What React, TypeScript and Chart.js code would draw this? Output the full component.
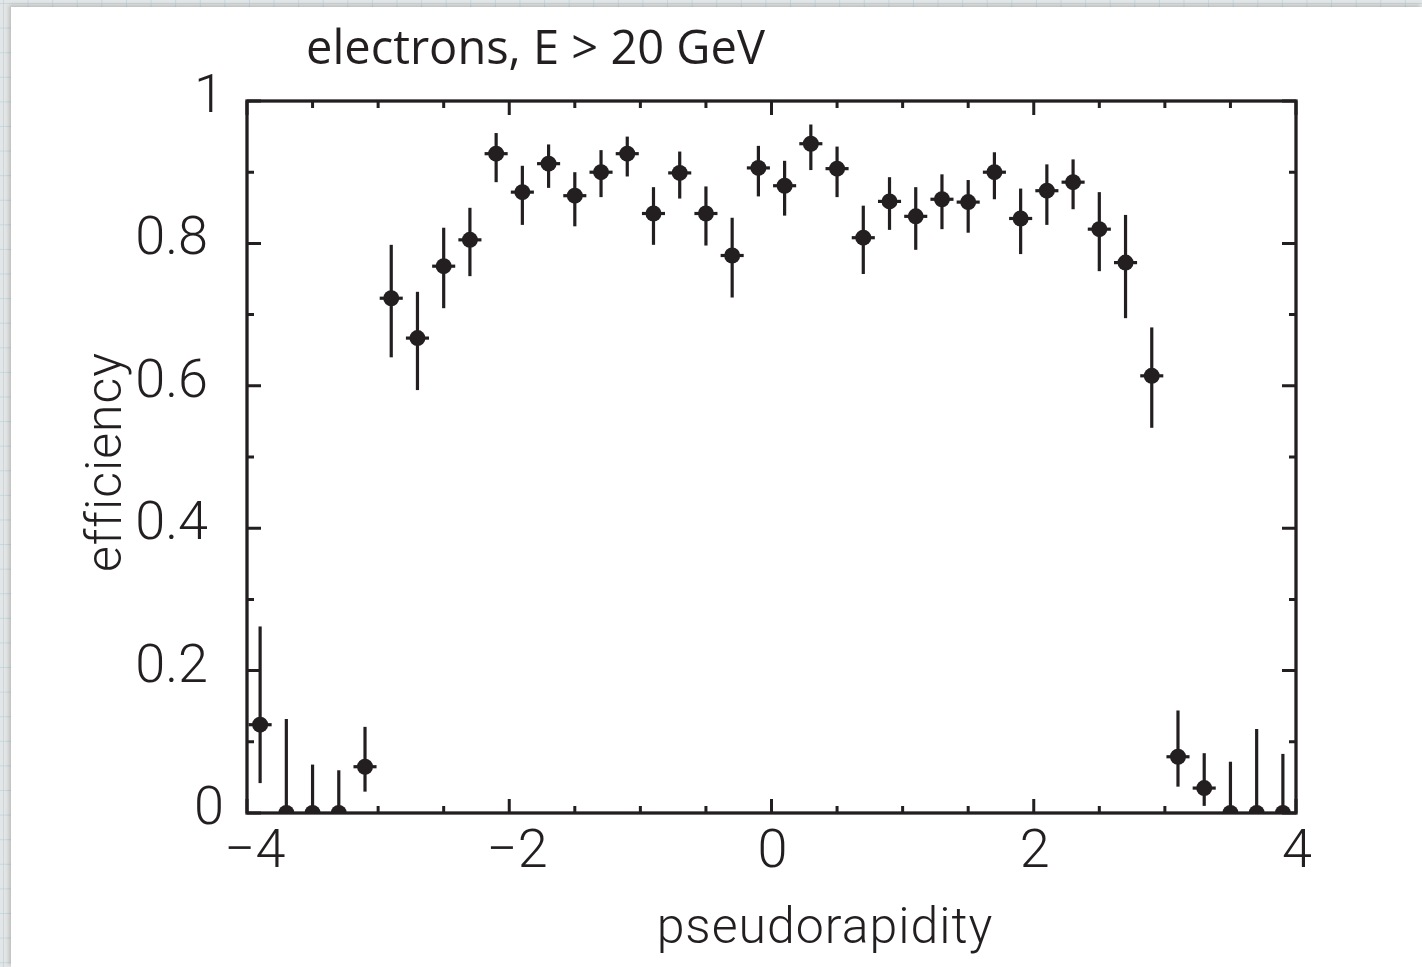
import React, { useEffect, useRef } from "react";
import { Chart, registerables } from "chart.js";

Chart.register(...registerables);

// ---- data ----
const etaCenters = [
  -3.9, -3.7, -3.5, -3.3, -3.1, -2.9, -2.7, -2.5, -2.3, -2.1,
  -1.9, -1.7, -1.5, -1.3, -1.1, -0.9, -0.7, -0.5, -0.3, -0.1,
  0.1, 0.3, 0.5, 0.7, 0.9, 1.1, 1.3, 1.5, 1.7, 1.9,
  2.1, 2.3, 2.5, 2.7, 2.9, 3.1, 3.3, 3.5, 3.7, 3.9,
];
const efficiency = [
  0.124, 0, 0, 0, 0.065, 0.723, 0.667, 0.768, 0.805, 0.926,
  0.872, 0.912, 0.867, 0.900, 0.926, 0.842, 0.899, 0.842, 0.783, 0.906,
  0.881, 0.940, 0.905, 0.808, 0.859, 0.838, 0.862, 0.858, 0.900, 0.835,
  0.874, 0.886, 0.820, 0.773, 0.614, 0.079, 0.035, 0, 0, 0,
];
const errUpper = [
  0.262, 0.132, 0.068, 0.060, 0.121, 0.798, 0.732, 0.822, 0.850, 0.955,
  0.909, 0.939, 0.900, 0.931, 0.950, 0.879, 0.929, 0.880, 0.836, 0.937,
  0.916, 0.967, 0.936, 0.853, 0.893, 0.879, 0.897, 0.889, 0.928, 0.877,
  0.911, 0.918, 0.872, 0.840, 0.682, 0.144, 0.084, 0.072, 0.118, 0.083,
];
const errLower = [
  0.042, 0, 0, 0, 0.030, 0.640, 0.594, 0.709, 0.754, 0.886,
  0.826, 0.878, 0.824, 0.865, 0.894, 0.798, 0.863, 0.797, 0.724, 0.866,
  0.839, 0.903, 0.865, 0.757, 0.819, 0.791, 0.820, 0.815, 0.862, 0.785,
  0.826, 0.848, 0.761, 0.695, 0.541, 0.037, 0.010, 0, 0, 0,
];
const etaHalfBar = 0.088;

const xTickValues = [-4, -3.5, -3, -2.5, -2, -1.5, -1, -0.5, 0, 0.5, 1, 1.5, 2, 2.5, 3, 3.5, 4];
const xLabelValues = [-4, -2, 0, 2, 4];
const xLabelTexts = ["\u22124", "\u22122", "0", "2", "4"];
const yTickValues = [0, 0.1, 0.2, 0.3, 0.4, 0.5, 0.6, 0.7, 0.8, 0.9, 1];
const yLabelValues = [0, 0.2, 0.4, 0.6, 0.8, 1];
const yLabelTexts = ["0", "0.2", "0.4", "0.6", "0.8", "1"];

const titleText = "electrons, E > 20 GeV";
const xTitle = "pseudorapidity";
const yTitle = "efficiency";

const INK = "#231f20";
const TICK_FONT = "300 54px Roboto";
const AXIS_FONT = "300 50px Roboto";
const TITLE_FONT = "400 47px 'Open Sans'";

const errorBarPlugin = {
  id: "errorBars",
  beforeDatasetsDraw(chart: any) {
    const { ctx, chartArea: a, scales } = chart;
    const x = scales.x;
    const y = scales.y;
    ctx.save();
    ctx.beginPath();
    ctx.rect(a.left, a.top, a.right - a.left, a.bottom - a.top);
    ctx.clip();
    ctx.strokeStyle = INK;
    ctx.lineWidth = 3.2;
    ctx.lineCap = "butt";
    etaCenters.forEach((eta, i) => {
      const px = x.getPixelForValue(eta);
      const py = y.getPixelForValue(efficiency[i]);
      ctx.beginPath();
      ctx.moveTo(px, y.getPixelForValue(errUpper[i]));
      ctx.lineTo(px, y.getPixelForValue(errLower[i]));
      ctx.stroke();
      if (efficiency[i] > 0) {
        ctx.beginPath();
        ctx.moveTo(x.getPixelForValue(eta - etaHalfBar), py);
        ctx.lineTo(x.getPixelForValue(eta + etaHalfBar), py);
        ctx.stroke();
      }
    });
    ctx.restore();
  },
};

const framePlugin = {
  id: "frame",
  afterDraw(chart: any) {
    const { ctx, chartArea: a, scales } = chart;
    const x = scales.x;
    const y = scales.y;
    ctx.save();
    ctx.strokeStyle = INK;
    ctx.fillStyle = INK;
    ctx.lineWidth = 3.3;
    ctx.strokeRect(a.left, a.top, a.right - a.left, a.bottom - a.top);

    ctx.lineWidth = 3;
    xTickValues.forEach((v) => {
      const px = x.getPixelForValue(v);
      const len = xLabelValues.includes(v) ? 14 : 7;
      ctx.beginPath();
      ctx.moveTo(px, a.bottom);
      ctx.lineTo(px, a.bottom - len);
      ctx.moveTo(px, a.top);
      ctx.lineTo(px, a.top + len);
      ctx.stroke();
    });
    yTickValues.forEach((v) => {
      const py = y.getPixelForValue(v);
      const len = yLabelValues.includes(v) ? 14 : 7;
      ctx.beginPath();
      ctx.moveTo(a.left, py);
      ctx.lineTo(a.left + len, py);
      ctx.moveTo(a.right, py);
      ctx.lineTo(a.right - len, py);
      ctx.stroke();
    });

    // tick labels
    ctx.font = TICK_FONT;
    ctx.textBaseline = "alphabetic";
    ctx.textAlign = "center";
    xLabelValues.forEach((v, i) => {
      const px = x.getPixelForValue(v) + (v < 0 ? 8 : 1);
      ctx.fillText(xLabelTexts[i], px, a.bottom + 54);
    });
    ctx.textAlign = "right";
    yLabelValues.forEach((v, i) => {
      const py = y.getPixelForValue(v);
      const txt = yLabelTexts[i];
      const right = txt.includes(".") ? a.left - 39 : a.left - 23;
      ctx.fillText(txt, right, py + 11);
    });

    // axis titles
    ctx.font = AXIS_FONT;
    ctx.textAlign = "center";
    (ctx as any).letterSpacing = "1px";
    ctx.fillText(xTitle, 825, 943);
    ctx.save();
    ctx.translate(121, y.getPixelForValue(0.5) + 5);
    ctx.rotate(-Math.PI / 2);
    (ctx as any).letterSpacing = "1px";
    ctx.fillText(yTitle, 0, 0);
    ctx.restore();

    // title
    (ctx as any).letterSpacing = "0px";
    ctx.font = TITLE_FONT;
    ctx.textAlign = "left";
    ctx.fillText(titleText, 306, 64);
    ctx.restore();
  },
};

export default function App() {
  const canvasRef = useRef<HTMLCanvasElement | null>(null);

  useEffect(() => {
    const canvas = canvasRef.current;
    if (!canvas) return;
    const chart = new Chart(canvas, {
      type: "scatter",
      data: {
        datasets: [
          {
            label: "efficiency",
            data: etaCenters.map((eta, i) => ({ x: eta, y: efficiency[i] })),
            pointRadius: 8,
            pointHoverRadius: 8,
            pointStyle: "circle",
            backgroundColor: INK,
            borderColor: INK,
            borderWidth: 0,
            clip: 0,
          } as any,
        ],
      },
      options: {
        animation: false,
        responsive: false,
        devicePixelRatio: 1,
        events: [],
        layout: { padding: { top: 101, right: 126, left: 0, bottom: 0 } },
        plugins: {
          legend: { display: false },
          tooltip: { enabled: false },
          title: { display: false },
        },
        scales: {
          x: {
            type: "linear",
            min: -4,
            max: 4,
            grid: { display: false },
            border: { display: false },
            ticks: { display: false },
            afterFit: (scale: any) => {
              scale.height = 154;
            },
          },
          y: {
            type: "linear",
            min: 0,
            max: 1,
            grid: { display: false },
            border: { display: false },
            ticks: { display: false },
            afterFit: (scale: any) => {
              scale.width = 247;
            },
          },
        },
      },
      plugins: [errorBarPlugin, framePlugin],
    });
    return () => chart.destroy();
  }, []);

  const paper: React.CSSProperties = {
    position: "absolute",
    left: 0,
    top: 0,
    width: 1422,
    height: 967,
    overflow: "hidden",
    backgroundColor: "#e4e5e5",
    backgroundImage:
      "linear-gradient(rgba(185,212,222,0.7) 1px, transparent 1px), linear-gradient(90deg, rgba(185,212,222,0.7) 1px, transparent 1px)",
    backgroundSize: "24.6px 24.6px",
    backgroundPosition: "3px 3px",
  };
  const panel: React.CSSProperties = {
    position: "absolute",
    left: 11,
    top: 7,
    right: 0,
    bottom: 0,
    background: "#ffffff",
    boxShadow: "-2px -2px 4px rgba(0,0,0,0.18)",
  };

  return (
    <div style={paper}>
      <div style={panel} />
      <canvas
        ref={canvasRef}
        width={1422}
        height={967}
        style={{ position: "absolute", left: 0, top: 0, width: 1422, height: 967 }}
      />
    </div>
  );
}
